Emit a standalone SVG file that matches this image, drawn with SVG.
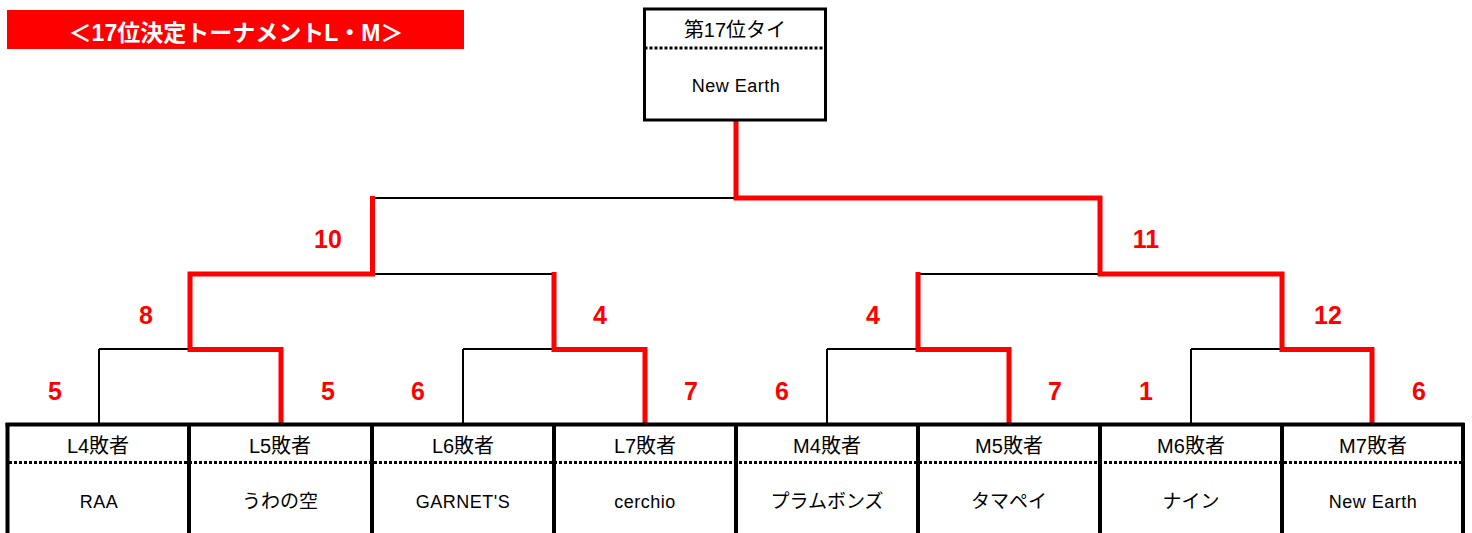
<svg xmlns="http://www.w3.org/2000/svg" width="1472" height="533" viewBox="0 0 1472 533">
<style>
.box{fill:#fff;stroke:#000;stroke-width:3}
.dot{stroke:#000;stroke-width:3;stroke-dasharray:3 2;fill:none}
.thin{stroke:#000;stroke-width:2;fill:none}
.red{stroke:#ff0000;stroke-width:5;fill:none;stroke-linejoin:miter;stroke-linecap:butt}
.hd{font-family:"Liberation Sans","Noto Sans CJK JP",sans-serif;font-size:20px;fill:#000;text-anchor:middle}
.nm{font-family:"Liberation Sans","Noto Sans CJK JP",sans-serif;font-size:18px;letter-spacing:0.5px;fill:#000;text-anchor:middle}
.jp{font-family:"Noto Sans CJK JP",sans-serif;font-size:19px;fill:#000;text-anchor:middle}
.sc{font-family:"Liberation Sans",sans-serif;font-size:25px;font-weight:bold;fill:#ff0000;text-anchor:middle}
.ttl{font-family:"Liberation Sans","Noto Sans CJK JP",sans-serif;font-size:23px;font-weight:bold;fill:#fff;text-anchor:middle}
</style>
<rect width="1472" height="533" fill="#fff"/>
<g id="title">
<rect x="7" y="10" width="457" height="39" fill="#ff0000"/>
<text class="ttl" x="236" y="41">＜17位決定トーナメントL・M＞</text>
</g>
<g id="connectors">
<path class="thin" d="M373,198 H736 M373,274 H554 M918,274 H1100 M99,349 H190 M463,349 H554 M827,349 H918 M1191,349 H1282 M99,349 V424 M463,349 V424 M827,349 V424 M1191,349 V424"/>
<path class="red" d="M281,424 V349.5 H190 V274 H372.5 V196"/>
<path class="red" d="M645,424 V349.5 H554 V272"/>
<path class="red" d="M1009,424 V349.5 H918 V272"/>
<path class="red" d="M1372,424 V349.5 H1282 V274 H1100 V198 H736 V121"/>
</g>
<g id="winner">
<rect class="box" x="644.5" y="9" width="181" height="111"/>
<line class="dot" x1="644.5" y1="48" x2="825.5" y2="48"/>
<text class="hd" x="735" y="37">第17位タイ</text>
<text class="nm" x="736" y="92">New Earth</text>
</g>
<g id="scores">
<text class="sc" x="328" y="248">10</text>
<text class="sc" x="1146" y="248">11</text>
<text class="sc" x="146" y="324">8</text>
<text class="sc" x="600" y="324">4</text>
<text class="sc" x="873" y="324">4</text>
<text class="sc" x="1328" y="324">12</text>
<text class="sc" x="55" y="400">5</text>
<text class="sc" x="328" y="400">5</text>
<text class="sc" x="418" y="400">6</text>
<text class="sc" x="691" y="400">7</text>
<text class="sc" x="782" y="400">6</text>
<text class="sc" x="1055" y="400">7</text>
<text class="sc" x="1146" y="400">1</text>
<text class="sc" x="1419" y="400">6</text>
</g>
<g id="entrants-frame">
<path d="M5.5,424.5 H1464.5" stroke="#000" stroke-width="4" fill="none"/>
<path d="M7.5,423 V540 M189,423 V540 M372,423 V540 M554,423 V540 M736,423 V540 M918,423 V540 M1100,423 V540 M1282,423 V540 M1463,423 V540" stroke="#000" stroke-width="4" fill="none"/>
<line class="dot" x1="9" y1="462.5" x2="1462" y2="462.5"/>
</g>
<g id="L4"><text class="hd" x="98" y="453">L4敗者</text><text class="nm" x="99" y="508">RAA</text></g>
<g id="L5"><text class="hd" x="280" y="453">L5敗者</text><text class="jp" x="280" y="508">うわの空</text></g>
<g id="L6"><text class="hd" x="463" y="453">L6敗者</text><text class="nm" x="463" y="508">GARNET'S</text></g>
<g id="L7"><text class="hd" x="645" y="453">L7敗者</text><text class="nm" x="645" y="508">cerchio</text></g>
<g id="M4"><text class="hd" x="827" y="453">M4敗者</text><text class="jp" x="827" y="508">プラムボンズ</text></g>
<g id="M5"><text class="hd" x="1009" y="453">M5敗者</text><text class="jp" x="1009" y="508">タマペイ</text></g>
<g id="M6"><text class="hd" x="1191" y="453">M6敗者</text><text class="jp" x="1191" y="508">ナイン</text></g>
<g id="M7"><text class="hd" x="1373" y="453">M7敗者</text><text class="nm" x="1373" y="508">New Earth</text></g>
</svg>
